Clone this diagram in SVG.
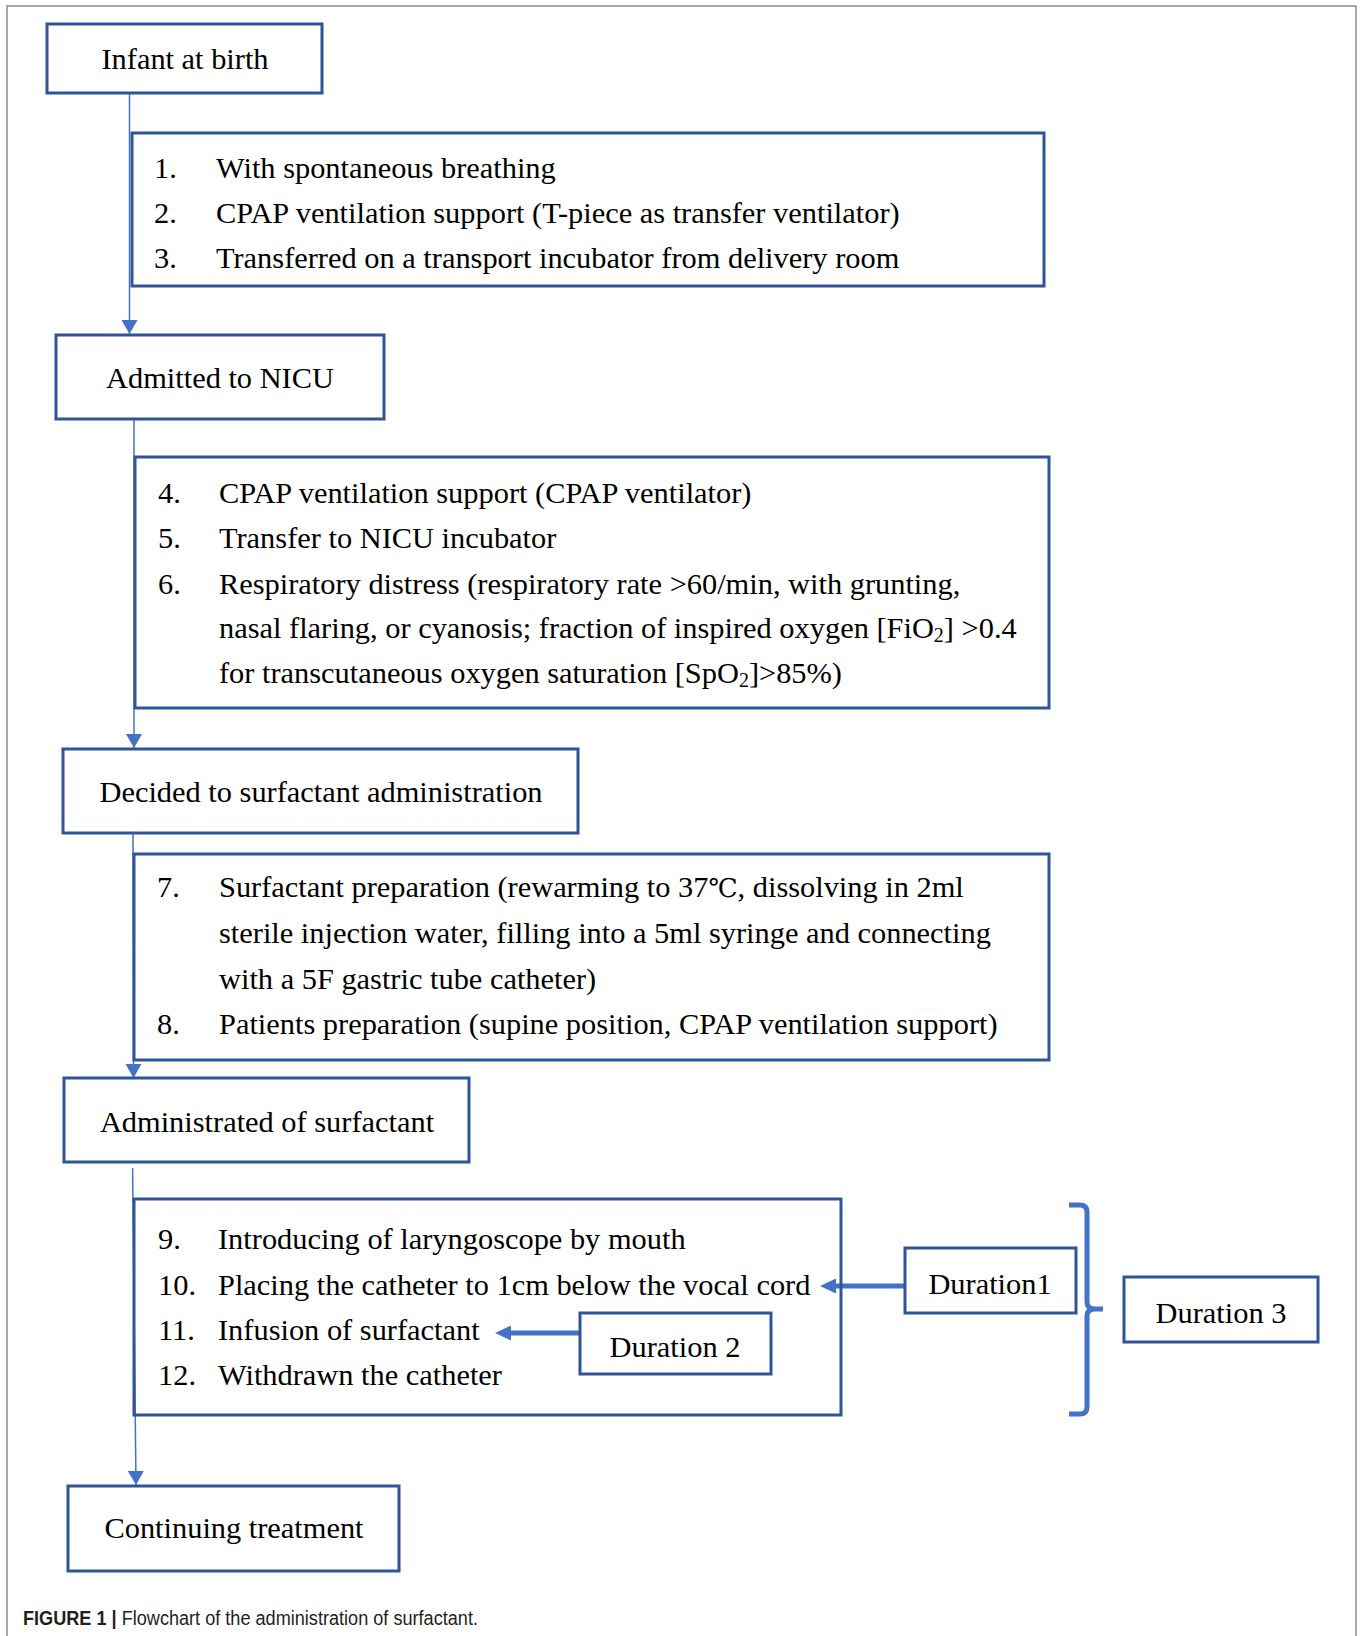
<svg xmlns="http://www.w3.org/2000/svg" width="1360" height="1636" viewBox="0 0 1360 1636">
<style>
.box{fill:#fff;stroke:#2F5597;stroke-width:3}
.frame{fill:none;stroke:#2F5597;stroke-width:3}
.t{font-family:"Liberation Serif","Times New Roman",serif;font-size:30.4px;fill:#000}
.c{text-anchor:middle}
.thin{fill:none;stroke:#4472C4;stroke-width:1.5}
.thick{fill:none;stroke:#4472C4;stroke-width:5}
.sub{font-size:20px}
.deg{font-family:"DejaVu Serif","Liberation Serif","Noto Sans CJK SC",serif;font-size:26px}
</style>
<defs>
<marker id="ahThin" viewBox="0 0 14 16" refX="14" refY="8" markerWidth="14" markerHeight="16" markerUnits="userSpaceOnUse" orient="auto">
<path d="M0,0 L14,8 L0,16 Z" fill="#4472C4"/>
</marker>
<marker id="ahThick" viewBox="0 0 16 15" refX="3" refY="7.5" markerWidth="16" markerHeight="15" markerUnits="userSpaceOnUse" orient="auto">
<path d="M0,0 L16,7.5 L0,15 Z" fill="#4472C4"/>
</marker>
</defs>
<rect x="7" y="6" width="1349" height="1660" fill="#fff" stroke="#8c8c8c" stroke-width="1.5"/>

<g id="connectors">
<path class="thin" d="M129.5,93 L129.5,334" marker-end="url(#ahThin)"/>
<path class="thin" d="M134,419 L134,748" marker-end="url(#ahThin)"/>
<path class="thin" d="M133,833 L133.5,1078" marker-end="url(#ahThin)"/>
<path class="thin" d="M132.6,1168 L136,1485" marker-end="url(#ahThin)"/>
<path class="thick" d="M904,1286 L833,1286" marker-end="url(#ahThick)"/>
<path class="thick" d="M580,1333 L508,1333" marker-end="url(#ahThick)"/>
<path class="thick" d="M1069,1205 H1080 Q1087,1205 1087,1212 V1302 Q1087,1309 1095,1309 H1103 M1095,1309 Q1087,1309 1087,1316 V1407 Q1087,1414 1080,1414 H1069"/>
</g>

<g id="n-infant">
<rect class="box" x="47" y="24" width="275" height="69"/>
<text class="t c" x="185" y="69">Infant at birth</text>
</g>

<g id="n-steps1">
<rect class="frame" x="132" y="133" width="912" height="153"/>
<text class="t" x="154" y="178">1.</text><text class="t" x="216" y="178">With spontaneous breathing</text>
<text class="t" x="154" y="223">2.</text><text class="t" x="216" y="223">CPAP ventilation support (T-piece as transfer ventilator)</text>
<text class="t" x="154" y="268">3.</text><text class="t" x="216" y="268">Transferred on a transport incubator from delivery room</text>
</g>

<g id="n-nicu">
<rect class="box" x="56" y="335" width="328" height="84"/>
<text class="t c" x="220" y="388">Admitted to NICU</text>
</g>

<g id="n-steps2">
<rect class="frame" x="135" y="457" width="914" height="251"/>
<text class="t" x="158" y="503">4.</text><text class="t" x="219" y="503">CPAP ventilation support (CPAP ventilator)</text>
<text class="t" x="158" y="548">5.</text><text class="t" x="219" y="548">Transfer to NICU incubator</text>
<text class="t" x="158" y="594">6.</text><text class="t" x="219" y="594">Respiratory distress (respiratory rate &gt;60/min, with grunting,</text>
<text class="t" x="219" y="638">nasal flaring, or cyanosis; fraction of inspired oxygen [FiO<tspan class="sub" dy="4">2</tspan><tspan dy="-4">] &gt;0.4</tspan></text>
<text class="t" x="219" y="683">for transcutaneous oxygen saturation [SpO<tspan class="sub" dy="4">2</tspan><tspan dy="-4">]&gt;85%)</tspan></text>
</g>

<g id="n-decided">
<rect class="box" x="63" y="749" width="515" height="84"/>
<text class="t c" x="321" y="802">Decided to surfactant administration</text>
</g>

<g id="n-steps3">
<rect class="frame" x="134" y="854" width="915" height="206"/>
<text class="t" x="157" y="897">7.</text><text class="t" x="219" y="897">Surfactant preparation (rewarming to 37<tspan class="deg">℃</tspan>, dissolving in 2ml</text>
<text class="t" x="219" y="943">sterile injection water, filling into a 5ml syringe and connecting</text>
<text class="t" x="219" y="989">with a 5F gastric tube catheter)</text>
<text class="t" x="157" y="1034">8.</text><text class="t" x="219" y="1034">Patients preparation (supine position, CPAP ventilation support)</text>
</g>

<g id="n-admin">
<rect class="box" x="64" y="1078" width="405" height="84"/>
<text class="t c" x="267" y="1132">Administrated of surfactant</text>
</g>

<g id="n-steps4">
<rect class="frame" x="134" y="1199" width="707" height="216"/>
<text class="t" x="158" y="1249">9.</text><text class="t" x="218" y="1249">Introducing of laryngoscope by mouth</text>
<text class="t" x="158" y="1295">10.</text><text class="t" x="218" y="1295">Placing the catheter to 1cm below the vocal cord</text>
<text class="t" x="158" y="1340">11.</text><text class="t" x="218" y="1340">Infusion of surfactant</text>
<text class="t" x="158" y="1385">12.</text><text class="t" x="218" y="1385">Withdrawn the catheter</text>
</g>

<g id="n-duration2">
<rect class="box" x="580" y="1313" width="191" height="61"/>
<text class="t c" x="675" y="1357">Duration 2</text>
</g>

<g id="n-duration1">
<rect class="box" x="905" y="1248" width="171" height="65"/>
<text class="t c" x="990" y="1294">Duration1</text>
</g>

<g id="n-duration3">
<rect class="box" x="1124" y="1277" width="194" height="65"/>
<text class="t c" x="1221" y="1323">Duration 3</text>
</g>

<g id="n-continue">
<rect class="box" x="68" y="1486" width="331" height="85"/>
<text class="t c" x="234" y="1538">Continuing treatment</text>
</g>

<text x="23" y="1625" font-family="'Liberation Sans',Arial,sans-serif" font-size="20" fill="#231f20" textLength="455" lengthAdjust="spacingAndGlyphs"><tspan font-weight="bold">FIGURE 1 |</tspan> Flowchart of the administration of surfactant.</text>
</svg>
